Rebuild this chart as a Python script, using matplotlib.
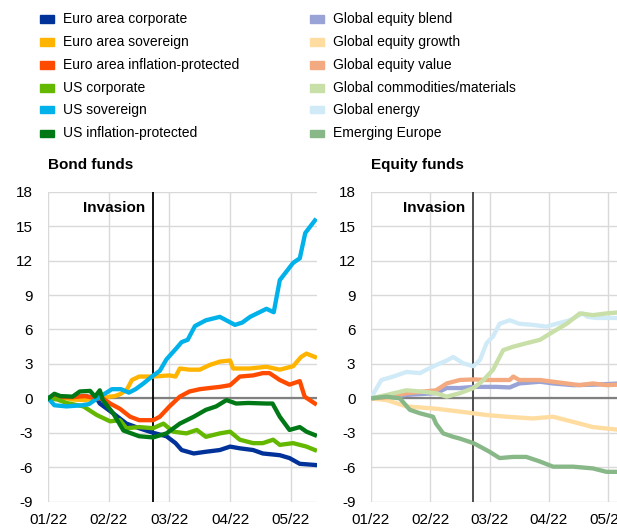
import matplotlib
matplotlib.use('Agg')
import matplotlib.pyplot as plt
from matplotlib.patches import Rectangle

plt.rcParams['font.family'] = ['Liberation Sans', 'DejaVu Sans']
plt.rcParams['axes.unicode_minus'] = False

# x values are months since start of January 2022
month_labels = ['01/22', '02/22', '03/22', '04/22', '05/22']
invasion_month = 1.73
y_ticks = [18, 15, 12, 9, 6, 3, 0, -3, -6, -9]

# bond funds
euro_corp_x = [0, 0.2, 0.4, 0.6, 0.8, 0.85, 1.07, 1.29, 1.5, 1.73, 1.95, 2.1, 2.2, 2.4, 2.6,
               2.83, 3.0, 3.16, 3.38, 3.54, 3.82, 3.98, 4.15, 4.4]
euro_corp_y = [0, 0.1, 0.05, 0.2, 0.0, -0.45, -1.3, -2.2, -2.6, -3.0, -3.3, -3.9, -4.5, -4.8, -4.65,
               -4.5, -4.2, -4.35, -4.5, -4.8, -4.95, -5.2, -5.7, -5.8]

euro_sov_x = [0, 0.2, 0.4, 0.6, 0.8, 0.95, 1.1, 1.2, 1.3, 1.38, 1.5, 1.73, 2.0, 2.1, 2.17, 2.33,
              2.5, 2.66, 2.83, 3.0, 3.05, 3.32, 3.6, 3.82, 4.04, 4.17, 4.26, 4.4]
euro_sov_y = [0, 0.1, -0.1, -0.15, 0.0, 0.1, 0.2, 0.4, 0.8, 1.6, 1.9, 1.9, 2.0, 1.9, 2.6, 2.5,
              2.5, 2.9, 3.2, 3.3, 2.6, 2.6, 2.75, 2.5, 2.8, 3.6, 3.9, 3.6]

euro_infl_x = [0, 0.2, 0.4, 0.6, 0.8, 0.9, 1.02, 1.18, 1.35, 1.5, 1.73, 1.84, 2.0, 2.17, 2.33,
               2.5, 2.66, 2.83, 3.0, 3.16, 3.38, 3.54, 3.65, 3.82, 3.98, 4.15, 4.23, 4.4]
euro_infl_y = [0, 0.1, 0.1, 0.2, 0.0, 0.0, -0.45, -0.9, -1.6, -1.9, -1.9, -1.6, -0.7, 0.15, 0.6,
               0.8, 0.9, 1.0, 1.15, 1.9, 2.0, 2.2, 2.2, 1.6, 1.2, 1.5, 0.15, -0.45]

us_corp_x = [0, 0.15, 0.3, 0.58, 0.8, 1.02, 1.18, 1.29, 1.5, 1.73, 1.9, 2.06, 2.28, 2.45, 2.6,
             2.83, 3.0, 3.16, 3.38, 3.54, 3.71, 3.82, 4.04, 4.26, 4.4]
us_corp_y = [0, -0.1, -0.4, -0.7, -1.45, -2.0, -1.9, -2.6, -2.5, -2.6, -2.2, -2.9, -3.05, -2.75, -3.35,
             -3.05, -2.9, -3.6, -3.9, -3.9, -3.6, -4.05, -3.9, -4.2, -4.5]

us_sov_x = [0, 0.1, 0.3, 0.56, 0.67, 0.78, 0.9, 1.05, 1.2, 1.33, 1.44, 1.57, 1.71, 1.84, 1.95,
            2.12, 2.2, 2.3, 2.42, 2.6, 2.83, 3.08, 3.2, 3.33, 3.6, 3.72, 3.82, 4.04, 4.15, 4.24, 4.4]
us_sov_y = [0, -0.6, -0.7, -0.6, -0.5, -0.1, 0.3, 0.8, 0.8, 0.5, 0.8, 1.3, 1.9, 2.4, 3.4,
            4.4, 4.9, 5.1, 6.3, 6.8, 7.1, 6.4, 6.6, 7.1, 7.8, 7.5, 10.3, 11.8, 12.2, 14.4, 15.5]

us_infl_x = [0, 0.1, 0.2, 0.4, 0.52, 0.69, 0.77, 0.85, 0.9, 1.07, 1.24, 1.5, 1.73, 1.95, 2.17,
             2.4, 2.6, 2.77, 2.94, 3.1, 3.3, 3.6, 3.7, 3.82, 3.98, 4.15, 4.26, 4.4]
us_infl_y = [0, 0.4, 0.2, 0.15, 0.6, 0.65, 0.15, 0.7, -0.15, -1.3, -2.8, -3.3, -3.4, -3.05, -2.2,
             -1.6, -1.0, -0.7, -0.15, -0.45, -0.4, -0.45, -0.45, -1.6, -2.75, -2.5, -2.9, -3.2]

# equity funds
blend_x = [0, 0.3, 0.6, 1.1, 1.28, 1.5, 1.73, 2.12, 2.34, 2.5, 2.85, 3.07, 3.41, 3.8, 4.2]
blend_y = [0, 0.05, 0.3, 0.45, 0.9, 0.9, 1.0, 1.0, 0.95, 1.3, 1.45, 1.3, 1.15, 1.2, 1.3]

growth_x = [0, 0.27, 0.6, 1.1, 1.5, 1.95, 2.29, 2.73, 3.07, 3.41, 3.74, 4.2]
growth_y = [0, -0.15, -0.7, -0.9, -1.15, -1.45, -1.6, -1.75, -1.6, -2.05, -2.5, -2.75]

value_x = [0, 0.3, 0.6, 1.1, 1.28, 1.5, 1.73, 1.95, 2.34, 2.4, 2.5, 2.85, 3.07, 3.52, 3.74, 3.97, 4.2]
value_y = [0, 0.1, 0.45, 0.7, 1.3, 1.6, 1.65, 1.6, 1.6, 1.9, 1.6, 1.6, 1.45, 1.15, 1.3, 1.15, 1.2]

commod_x = [0, 0.27, 0.6, 0.83, 1.1, 1.28, 1.5, 1.73, 1.9, 2.06, 2.23, 2.4, 2.62, 2.85, 3.07,
            3.3, 3.52, 3.74, 3.97, 4.2]
commod_y = [0, 0.3, 0.7, 0.6, 0.45, 0.15, 0.45, 0.9, 1.6, 2.5, 4.2, 4.5, 4.8, 5.1, 5.8,
            6.5, 7.4, 7.25, 7.4, 7.5]

energy_x = [0, 0.18, 0.38, 0.6, 0.83, 0.94, 1.1, 1.28, 1.39, 1.56, 1.73, 1.84, 1.95, 2.06, 2.17,
            2.34, 2.5, 2.73, 2.96, 3.13, 3.35, 3.57, 3.65, 3.8, 4.02, 4.2]
energy_y = [0, 1.6, 1.9, 2.3, 2.2, 2.5, 2.9, 3.3, 3.6, 3.05, 2.8, 3.35, 4.8, 5.4, 6.5,
            6.8, 6.5, 6.4, 6.25, 6.5, 6.8, 7.4, 7.1, 7.0, 7.0, 7.0]

emerging_x = [0, 0.27, 0.49, 0.66, 0.83, 1.05, 1.1, 1.22, 1.39, 1.5, 1.73, 1.84, 2.0, 2.17, 2.4,
              2.62, 2.85, 3.07, 3.41, 3.74, 3.97, 4.2]
emerging_y = [0, 0.15, 0, -1.0, -1.3, -1.6, -2.2, -3.05, -3.35, -3.5, -3.9, -4.2, -4.65, -5.2, -5.1,
              -5.1, -5.5, -5.95, -5.95, -6.1, -6.4, -6.4]

bond_names = ['Euro area corporate', 'Euro area sovereign', 'Euro area inflation-protected',
              'US corporate', 'US sovereign', 'US inflation-protected']
bond_colors = ['#003299', '#ffb400', '#ff4b00', '#65b800', '#00b1ea', '#007816']
bond_data = [(euro_corp_x, euro_corp_y), (euro_sov_x, euro_sov_y), (euro_infl_x, euro_infl_y),
             (us_corp_x, us_corp_y), (us_sov_x, us_sov_y), (us_infl_x, us_infl_y)]

equity_names = ['Global equity blend', 'Global equity growth', 'Global equity value',
                'Global commodities/materials', 'Global energy', 'Emerging Europe']
equity_colors = ['#9aa3d6', '#ffdca0', '#f4aa80', '#c8dfa8', '#d0ebf7', '#88b888']
equity_data = [(blend_x, blend_y), (growth_x, growth_y), (value_x, value_y),
               (commod_x, commod_y), (energy_x, energy_y), (emerging_x, emerging_y)]

W, H = 617, 529
fig = plt.figure(figsize=(W / 100, H / 100), dpi=100)


def make_panel(left_px, px_per_month, title, data, colors, order, vline_color):
    """one panel: grid, zero line, invasion marker and the fund lines"""
    xmax = 4.43
    ax = fig.add_axes([left_px / W, (H - 501.7) / H, xmax * px_per_month / W, 310 / H])
    ax.set_xlim(0, xmax)
    ax.set_ylim(-9, 18)
    ax.set_yticks(y_ticks)
    ax.set_xticks(range(5))
    ax.set_xticklabels(month_labels)
    ax.grid(True, color='#d9d9d9', lw=1)
    ax.set_axisbelow(True)
    for s in ax.spines.values():
        s.set_visible(False)
    ax.tick_params(length=0, labelsize=11, colors='black')
    ax.tick_params(axis='y', pad=11)
    ax.tick_params(axis='x', pad=8)
    ax.axhline(0, color='#808080', lw=1.6, zorder=2)
    ax.axvline(invasion_month, color=vline_color, lw=1.3, zorder=2)
    ax.text(invasion_month - 0.13, 16.6, 'Invasion', ha='right', va='center',
            fontsize=11, fontweight='bold')
    for i in order:
        x, y = data[i]
        ax.plot(x, y, color=colors[i], lw=3.1, solid_joinstyle='round', zorder=3)
    fig.text(left_px / W, 1 - 165 / H, title, ha='left', va='center',
             fontsize=11, fontweight='bold')
    return ax


make_panel(48.3, 60.6, 'Bond funds', bond_data, bond_colors, [0, 1, 2, 3, 4, 5], 'black')
make_panel(370.7, 59.4, 'Equity funds', equity_data, equity_colors, [0, 1, 2, 4, 3, 5], '#404040')

# legend drawn by hand in two columns
row_y = [19, 42, 65, 88, 110, 133]
for col_x, names, colors in [(40, bond_names, bond_colors), (310, equity_names, equity_colors)]:
    for yy, name, c in zip(row_y, names, colors):
        fig.add_artist(Rectangle((col_x / W, 1 - (yy + 3.5) / H), 14 / W, 7 / H,
                                 color=c, transform=fig.transFigure))
        fig.text((col_x + 23) / W, 1 - yy / H, name, ha='left', va='center', fontsize=10)

fig.savefig('out.png', dpi=100)
